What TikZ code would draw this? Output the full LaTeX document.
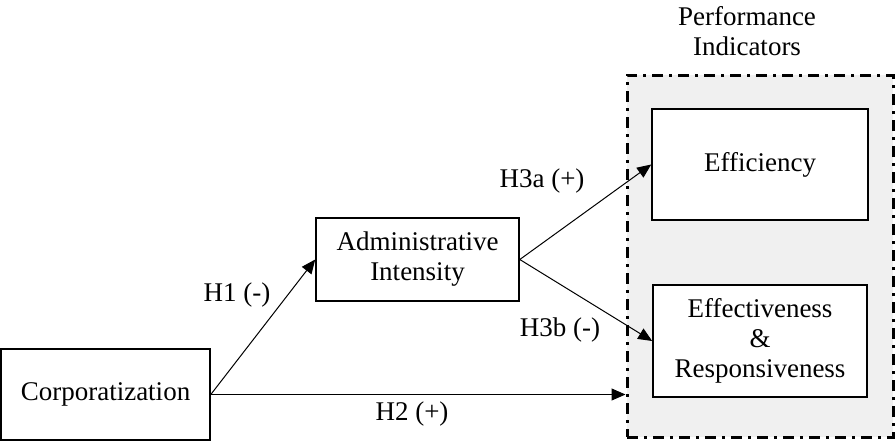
\documentclass[tikz,border=0pt]{standalone}
\usepackage{fontspec}
\setmainfont{Liberation Serif}
\usetikzlibrary{arrows.meta}

\definecolor{panelgray}{RGB}{240,240,240}

\tikzset{
  varbox/.style={draw=black,line width=1.6pt,fill=white,align=center,inner sep=0pt},
  hyp/.style={draw=black,line width=1pt,-{Triangle[length=14pt,width=12pt]}},
  hyplabel/.style={text=black,anchor=center},
}

\begin{document}
\begin{tikzpicture}[x=1pt,y=-1pt,font=\fontsize{27}{30}\selectfont]

\useasboundingbox (0,0) rectangle (895,442);

% indicator panel:
\node[draw=black,fill=panelgray,line width=3pt,dash pattern=on 11pt off 6pt on 3pt off 6pt,
  minimum width=266pt,minimum height=362pt,inner sep=0pt] (perf) at (760,256) {};
\node[text=black,align=center] (perftitle) at (747,31) {Performance\\Indicators};

% variables:
\node[varbox,minimum width=209pt,minimum height=91pt] (corp) at (105.5,394.5) {Corporatization};
\node[varbox,minimum width=203pt,minimum height=83pt] (admin) at (417.5,259.5) {Administrative\\Intensity};
\node[varbox,minimum width=216pt,minimum height=111pt] (eff) at (760,164.5) {Efficiency};
\node[varbox,minimum width=214pt,minimum height=112pt] (effr) at (760,341) {Effectiveness\\\&\\Responsiveness};

% hypotheses:
\draw[hyp] (corp.east) -- (admin.west);
\draw[hyp] (corp.east) -- (corp.east -| perf.west);
\draw[hyp] (admin.east) -- (eff.west);
\draw[hyp] (admin.east) -- (effr.west);

\node[hyplabel] (lblhone) at (237,295) {H1 (-)};
\node[hyplabel] (lblhtwo) at (412,414) {H2 (+)};
\node[hyplabel] (lblhthreea) at (542,181) {H3a (+)};
\node[hyplabel] (lblhthreeb) at (560,330) {H3b (-)};

\end{tikzpicture}
\end{document}
